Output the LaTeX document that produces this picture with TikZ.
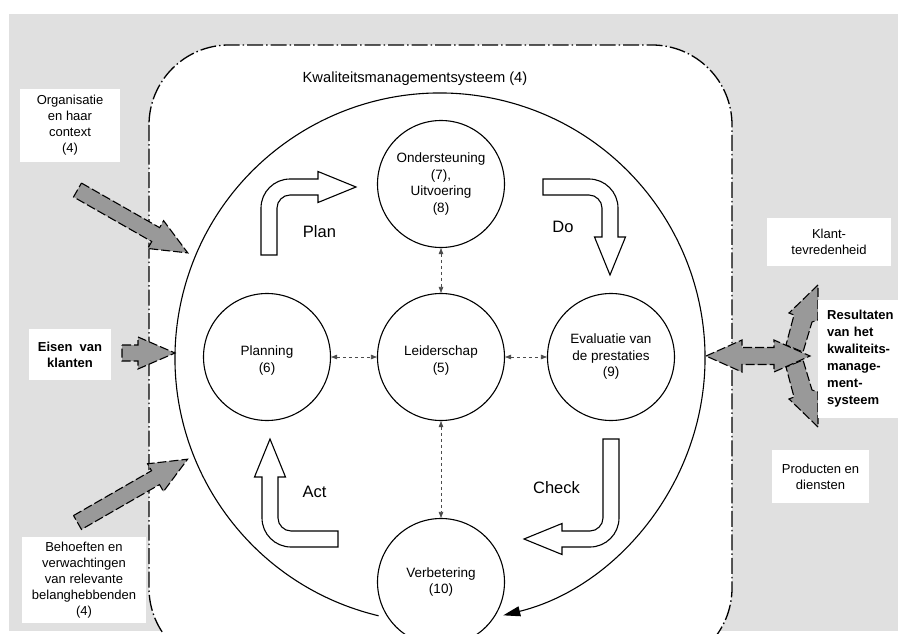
\documentclass[tikz,border=0pt]{standalone}
\usepackage{xcolor}
\usepackage{fontspec}
\setmainfont{Liberation Sans}
\usepackage{tikz}
\usetikzlibrary{arrows.meta}
\usetikzlibrary{positioning}
\tikzset{
station/.style = { circle, draw = black, fill = white, minimum size = 127pt, inner sep = 0pt, line width = 1.1pt, align = center, font = \fontsize{13.5}{16.5}\selectfont },
infobox/.style = { rectangle, fill = white, inner sep = 0pt, align = center, font = \fontsize{13}{16}\selectfont },
phase/.style = { font = \fontsize{16.5}{19}\selectfont },
block/.style = { draw = black, fill = black!40, line width = 1.1pt, dash pattern = on 9pt off 3pt },
link/.style = { draw = black!70, dashed, line width = 0.6pt, {Triangle[length = 6pt, width = 4.5pt]}-{Triangle[length = 6pt, width = 4.5pt]} },
}
\tikzset{
pics/pdca arrow/.style args={#1, #2}{
        code = {
        \path[draw = black, fill = white, line width = 1.1pt] (-8, #1) -- (-8, 21) .. controls (-8, 5) and (5, -8) .. (21, -8) -- (#2, -8) -- (#2, -15.5) -- (#2+38, 0) -- (#2, 15.5) -- (#2, 8) -- (21, 8) .. controls (14, 8) and (8, 14) .. (8, 21) -- (8, #1) -- cycle;
        }
    },
pics/block arrow/.style={
        code = {
        \path[block] (0, -8) -- (#1-37, -8) -- (#1-37, -16) -- (#1, 0) -- (#1-37, 16) -- (#1-37, 8) -- (0, 8) -- cycle;
        }
    }
}
\begin{document}
\begin{tikzpicture}[x = 1pt, y = -1pt]
    \useasboundingbox (0, 0) rectangle (898, 634);
    \clip (0, 0) rectangle (898, 634);
    \fill[black!12] (9, 14) rectangle (898, 631);
    \path[draw = black, fill = white, line width = 1.3pt, dash pattern = on 16pt off 3pt on 1.5pt off 3pt, rounded corners = 80pt] (149, 45) rectangle (732, 668);
    \node[font = \fontsize{14.7}{17}\selectfont] (title) at (415, 79) {Kwaliteitsmanagementsysteem (4)};
    % kringloop
    \coordinate (ring) at (440, 358);
    \draw[line width = 1.1pt, -{Triangle[length = 17pt, width = 10pt]}] (ring) ++(256.6:265pt) arc[start angle = 256.6, end angle = -76.2, radius = 265pt];
    % processen
    \node[station] (onder) at (441, 184) {Ondersteuning\\(7),\\Uitvoering\\(8)};
    \node[station] (planning) at (267, 357) {\mbox{}\\Planning\\(6)};
    \node[station] (lead) at (441, 357) {\mbox{}\\Leiderschap\\(5)};
    \node[station] (eval) at (611, 357) {Evaluatie van\\de prestaties\\(9)};
    \node[station] (verb) at (441, 582) {Verbetering\\(10)};
    \draw[link] (onder) -- (lead);
    \draw[link] (planning) -- (lead);
    \draw[link] (lead) -- (eval);
    \draw[link] (lead) -- (verb);
    % PDCA
    \draw (269, 187) pic{pdca arrow = {68, 49}};
    \draw (610, 187) pic[rotate = -90]{pdca arrow = {67, 50}};
    \draw (611, 539) pic[rotate = 180]{pdca arrow = {100, 49}};
    \draw (270, 539) pic[rotate = 90]{pdca arrow = {68, 62}};
    \node[phase] (plan) at (319.5, 232) {Plan};
    \node[phase] (do) at (563, 227) {Do};
    \node[phase] (check) at (556.5, 488) {Check};
    \node[phase] (act) at (314.5, 492) {Act};
    % input
    \draw (77.5, 190) pic[rotate = -29.7]{block arrow = 127};
    \draw (122, 353) pic{block arrow = 53};
    \draw (77.5, 522.5) pic[rotate = 29.9]{block arrow = 127};
    % output
    \path[block] (818, 285) -- (789, 313) -- (794, 315) -- (786, 345) -- (803, 352) -- (812, 322) -- (818, 320) -- cycle;
    \path[block] (818, 427) -- (789, 399) -- (794, 397) -- (786, 367) -- (803, 360) -- (812, 390) -- (818, 392) -- cycle;
    \path[block] (706, 356) -- (742, 340) -- (742, 347.5) -- (774, 347.5) -- (774, 340) -- (810, 356) -- (774, 372) -- (774, 364.5) -- (742, 364.5) -- (742, 372) -- cycle;
    % teksten
    \node[infobox, minimum width = 100pt, minimum height = 73pt] (context) at (70, 125.5) {Organisatie\\en haar\\context\\(4)};
    \node[infobox, minimum width = 82pt, minimum height = 51pt, font = \bfseries\fontsize{13}{16}\selectfont] (eisen) at (70, 354.5) {Eisen\ \ van\\klanten};
    \node[infobox, minimum width = 124pt, minimum height = 86pt] (behoeften) at (84, 580) {Behoeften en\\verwachtingen\\van relevante\\belanghebbenden\\(4)};
    \node[infobox, minimum width = 124pt, minimum height = 48pt] (klant) at (829, 242) {Klant-\\tevredenheid};
    \node[infobox, anchor = west, align = left, inner xsep = 9pt, text width = 72pt, minimum height = 118pt, font = \bfseries\fontsize{13}{17}\selectfont] (resultaten) at (818, 359) {Resultaten\\van het\\kwaliteits-\\manage-\\ment-\\systeem};
    \node[infobox, minimum width = 97pt, minimum height = 53pt] (producten) at (820.5, 476.5) {Producten en\\diensten};
\end{tikzpicture}
\end{document}
